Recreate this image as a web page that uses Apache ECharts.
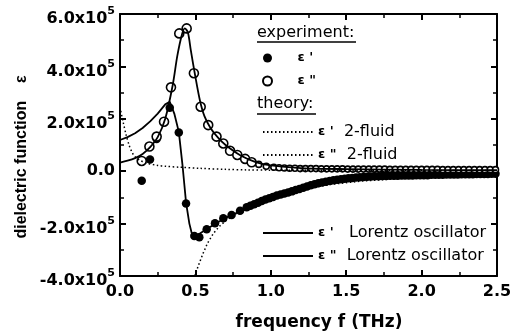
<!DOCTYPE html>
<html>
<head>
<meta charset="utf-8">
<script src="https://cdn.jsdelivr.net/npm/echarts@6/dist/echarts.min.js"></script>
<style>
  html, body { margin: 0; background: #fff; }
  #chart { width: 517px; height: 334px; }
</style>
</head>
<body>
<div id="chart"></div>
<script>
// all epsilon values in units of 1e5
const expRealF = [0.144, 0.199, 0.243, 0.33, 0.39, 0.438, 0.493, 0.526, 0.575, 0.63,
  0.685, 0.74, 0.796, 0.84, 0.865, 0.89, 0.915, 0.94, 0.965, 0.99,
  1.015, 1.04, 1.065, 1.09, 1.115, 1.14, 1.165, 1.19, 1.215, 1.24,
  1.265, 1.29, 1.315, 1.34, 1.365, 1.39, 1.415, 1.44, 1.465, 1.49,
  1.515, 1.54, 1.565, 1.59, 1.615, 1.64, 1.665, 1.69, 1.715, 1.74,
  1.765, 1.79, 1.815, 1.84, 1.865, 1.89, 1.915, 1.94, 1.965, 1.99,
  2.015, 2.04, 2.065, 2.09, 2.115, 2.14, 2.165, 2.19, 2.215, 2.24,
  2.265, 2.29, 2.315, 2.34, 2.365, 2.39, 2.415, 2.44, 2.465, 2.49]
const expRealE = [-0.36, 0.45, 1.23, 2.42, 1.48, -1.23, -2.47, -2.52, -2.22, -1.99,
  -1.8, -1.67, -1.51, -1.38, -1.32, -1.26, -1.2, -1.14, -1.08, -1.03,
  -0.98, -0.93, -0.89, -0.85, -0.81, -0.77, -0.72, -0.68, -0.63, -0.58,
  -0.54, -0.5, -0.46, -0.43, -0.4, -0.37, -0.35, -0.33, -0.31, -0.29,
  -0.27, -0.26, -0.24, -0.23, -0.22, -0.21, -0.2, -0.19, -0.19, -0.18,
  -0.18, -0.17, -0.17, -0.17, -0.16, -0.16, -0.16, -0.16, -0.15, -0.15,
  -0.15, -0.15, -0.14, -0.14, -0.14, -0.14, -0.13, -0.13, -0.13, -0.13,
  -0.12, -0.12, -0.12, -0.12, -0.11, -0.11, -0.11, -0.11, -0.1, -0.1]

const expImagF = [0.144, 0.195, 0.243, 0.292, 0.338, 0.393, 0.442, 0.49, 0.535, 0.585,
  0.64, 0.685, 0.73, 0.778, 0.83, 0.873, 0.92, 0.97, 1.02, 1.055,
  1.09, 1.125, 1.16, 1.195, 1.23, 1.265, 1.3, 1.335, 1.37, 1.405,
  1.44, 1.475, 1.51, 1.545, 1.58, 1.615, 1.65, 1.685, 1.72, 1.755,
  1.79, 1.825, 1.86, 1.895, 1.93, 1.965, 2.0, 2.035, 2.07, 2.105,
  2.14, 2.175, 2.21, 2.245, 2.28, 2.315, 2.35, 2.385, 2.42, 2.455, 2.49]
const expImagE = [0.39, 0.94, 1.32, 1.89, 3.2, 5.26, 5.45, 3.74, 2.46, 1.76,
  1.32, 1.06, 0.78, 0.62, 0.47, 0.34, 0.26, 0.19, 0.15, 0.13,
  0.12, 0.11, 0.11, 0.1, 0.1, 0.1, 0.1, 0.09, 0.09, 0.09,
  0.09, 0.09, 0.08, 0.08, 0.08, 0.08, 0.08, 0.08, 0.08, 0.08,
  0.07, 0.07, 0.07, 0.07, 0.07, 0.07, 0.07, 0.07, 0.07, 0.07,
  0.06, 0.06, 0.06, 0.06, 0.06, 0.06, 0.06, 0.06, 0.06, 0.06, 0.06]

const lorRealF = [0, 0.05, 0.1, 0.15, 0.2, 0.25, 0.3, 0.33, 0.36, 0.39,
  0.415, 0.438, 0.46, 0.475, 0.49, 0.51, 0.55, 0.6, 0.65, 0.7,
  0.8, 0.9, 1.0, 1.1, 1.2, 1.3, 1.4, 1.5, 1.7, 2.0, 2.5]
const lorRealE = [1.19, 1.3, 1.45, 1.65, 1.9, 2.2, 2.55, 2.65, 2.2, 1.5,
  0.2, -1.2, -2.0, -2.35, -2.45, -2.45, -2.3, -2.12, -1.95, -1.78,
  -1.52, -1.25, -1.02, -0.83, -0.66, -0.5, -0.38, -0.3, -0.2, -0.15, -0.1]

const lorImagF = [0, 0.05, 0.1, 0.15, 0.2, 0.25, 0.3, 0.35, 0.38, 0.41,
  0.43, 0.45, 0.47, 0.5, 0.53, 0.56, 0.6, 0.65, 0.7, 0.8,
  0.9, 1.0, 1.2, 1.5, 2.0, 2.5]
const lorImagE = [0.33, 0.4, 0.5, 0.66, 0.92, 1.3, 2.0, 3.3, 4.4, 5.2,
  5.45, 5.3, 4.6, 3.6, 2.7, 2.1, 1.65, 1.28, 1.0, 0.6,
  0.35, 0.22, 0.12, 0.08, 0.05, 0.04]

const fluidRealF = [0.495, 0.52, 0.55, 0.58, 0.62, 0.66, 0.7, 0.8, 0.9, 1.0, 1.2, 1.4, 1.6, 1.8, 2.0, 2.2, 2.5]
const fluidRealE = [-4.0, -3.6, -3.15, -2.75, -2.37, -2.1, -1.9, -1.5, -1.22, -1.0, -0.7, -0.5, -0.38, -0.3, -0.24, -0.2, -0.16]

const fluidImagF = [0.005, 0.02, 0.04, 0.06, 0.08, 0.1, 0.13, 0.18, 0.25, 0.3, 0.4, 0.53, 0.7, 0.84, 1.0, 1.5, 2.0, 2.5]
const fluidImagE = [2.3, 1.9, 1.4, 1.0, 0.72, 0.55, 0.42, 0.3, 0.22, 0.19, 0.15, 0.11, 0.07, 0.05, 0.04, 0.03, 0.03, 0.03]

const xTickValues = [0, 0.5, 1, 1.5, 2, 2.5]
const xTickText = ['0.0', '0.5', '1.0', '1.5', '2.0', '2.5']
const yTickValues = [-4, -2, 0, 2, 4, 6]
const yTickText = ['-4.0x10', '-2.0x10', '0.0', '2.0x10', '4.0x10', '6.0x10']
const yTickExp = ['5', '5', '', '5', '5', '5']

const nameExpReal = "ε '"
const nameExpImag = 'ε "'
const nameFluidReal = "ε '  2-fluid"
const nameFluidImag = 'ε "  2-fluid'
const nameLorReal = "ε '   Lorentz oscillator"
const nameLorImag = 'ε "  Lorentz oscillator'

const FONT = 'DejaVu Sans'
const pairs = (xs, ys) => xs.map((x, i) => [x, ys[i]])

const chart = echarts.init(document.getElementById('chart'))

const frameAxis = {
  axisLine: { onZero: false, lineStyle: { color: '#000', width: 2 } },
  axisTick: { inside: true, length: 6, lineStyle: { color: '#000', width: 2 } },
  minorTick: { show: true, splitNumber: 2, length: 4, lineStyle: { color: '#000', width: 1.5 } },
  splitLine: { show: false }
}

const xBase = { type: 'value', min: 0, max: 2.5, interval: 0.5, ...frameAxis }
const yBase = { type: 'value', min: -4, max: 6, interval: 2, ...frameAxis }

const legendText = {
  color: '#000',
  fontFamily: FONT,
  fontSize: 16,
  lineHeight: 18,
  rich: {
    e: { fontFamily: FONT, fontWeight: 'bold', fontSize: 13, lineHeight: 18 },
    t: { fontFamily: FONT, fontSize: 16, lineHeight: 18 }
  }
}
const legendFormatter = (n) => {
  const i = n.indexOf('  ')
  return i < 0 ? `{e|${n}}` : `{e|${n.slice(0, i)}}{t|${n.slice(i)}}`
}
const legendBase = {
  orient: 'vertical',
  left: 257,
  itemWidth: 50,
  itemHeight: 9,
  itemGap: 5,
  selectedMode: false,
  textStyle: legendText,
  formatter: legendFormatter
}

const option = {
  backgroundColor: '#fff',
  animation: false,
  grid: { left: 120, right: 20, top: 14, bottom: 58 },
  xAxis: [
    {
      ...xBase,
      position: 'bottom',
      axisLabel: {
        color: '#000', fontFamily: FONT, fontWeight: 'bold', fontSize: 16, margin: 8,
        formatter: (v) => xTickText[xTickValues.indexOf(v)]
      }
    },
    { ...xBase, position: 'top', axisLabel: { show: false } }
  ],
  yAxis: [
    {
      ...yBase,
      position: 'left',
      axisLabel: {
        color: '#000', margin: 5,
        formatter: (v) => {
          const i = yTickValues.indexOf(v)
          return yTickExp[i] ? `{b|${yTickText[i]}}{s|${yTickExp[i]}}` : `{z|${yTickText[i]}}`
        },
        rich: {
          b: { fontFamily: FONT, fontWeight: 'bold', fontSize: 16, lineHeight: 18, padding: [10, 0, 0, 0] },
          s: { fontFamily: FONT, fontWeight: 'bold', fontSize: 11, lineHeight: 12, padding: [0, 0, 5, 0] },
          z: { fontFamily: FONT, fontWeight: 'bold', fontSize: 16, lineHeight: 18 }
        }
      }
    },
    { ...yBase, position: 'right', axisLabel: { show: false } }
  ],
  legend: [
    { ...legendBase, top: 44, data: [nameExpReal, nameExpImag] },
    { ...legendBase, top: 118, itemStyle: { opacity: 0 }, data: [nameFluidReal, nameFluidImag] },
    { ...legendBase, top: 219, itemStyle: { opacity: 0 }, data: [nameLorReal, nameLorImag] }
  ],
  graphic: [
    { type: 'text', x: 257, y: 33, style: { text: 'experiment:', font: `16px "${FONT}"`, fill: '#000', textVerticalAlign: 'middle' } },
    { type: 'line', shape: { x1: 257, y1: 42, x2: 356, y2: 42 }, style: { stroke: '#000', lineWidth: 1.5 } },
    { type: 'text', x: 257, y: 104, style: { text: 'theory:', font: `16px "${FONT}"`, fill: '#000', textVerticalAlign: 'middle' } },
    { type: 'line', shape: { x1: 257, y1: 114, x2: 316, y2: 114 }, style: { stroke: '#000', lineWidth: 1.5 } },
    { type: 'text', x: 319, y: 323, style: { text: 'frequency f (THz)', font: `bold 17px "${FONT}"`, fill: '#000', textAlign: 'center', textVerticalAlign: 'middle' } },
    { type: 'text', x: 22, y: 157, rotation: Math.PI / 2, style: { text: 'dielectric function    ε', font: 'bold 16px "Liberation Sans"', fill: '#000', textAlign: 'center', textVerticalAlign: 'middle' } }
  ],
  series: [
    {
      name: nameFluidReal, type: 'line', symbol: 'none',
      lineStyle: { color: '#000', width: 1.5, type: [1.5, 2.5] },
      itemStyle: { color: '#000' },
      data: pairs(fluidRealF, fluidRealE)
    },
    {
      name: nameFluidImag, type: 'line', symbol: 'none', smooth: 0.3,
      lineStyle: { color: '#000', width: 1.5, type: [1.5, 2.5] },
      itemStyle: { color: '#000' },
      data: pairs(fluidImagF, fluidImagE)
    },
    {
      name: nameLorReal, type: 'line', symbol: 'none',
      lineStyle: { color: '#000', width: 1.8 },
      itemStyle: { color: '#000' },
      data: pairs(lorRealF, lorRealE)
    },
    {
      name: nameLorImag, type: 'line', symbol: 'none', smooth: 0.3,
      lineStyle: { color: '#000', width: 1.8 },
      itemStyle: { color: '#000' },
      data: pairs(lorImagF, lorImagE)
    },
    {
      name: nameExpReal, type: 'scatter', symbol: 'circle', symbolSize: 8.5,
      itemStyle: { color: '#000', opacity: 1 },
      data: pairs(expRealF, expRealE)
    },
    {
      name: nameExpImag, type: 'scatter', symbol: 'circle',
      symbolSize: (v) => (v[0] > 0.9 ? 6 : 9),
      itemStyle: { color: '#fff', borderColor: '#000', borderWidth: 1.6, opacity: 1 },
      data: pairs(expImagF, expImagE)
    }
  ]
}

chart.setOption(option)
</script>
</body>
</html>
